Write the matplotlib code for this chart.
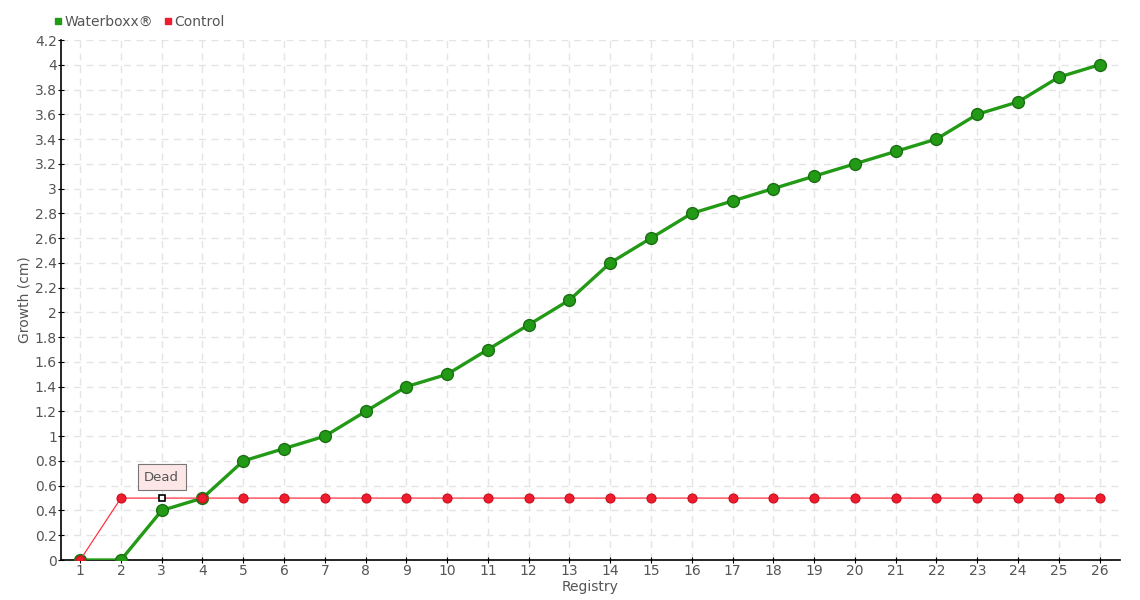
import matplotlib
matplotlib.use("Agg")
import matplotlib.pyplot as plt
from matplotlib.lines import Line2D

plt.rcParams["font.family"] = ["DejaVu Sans"]

# Data
registry = list(range(1, 27))
waterboxx = [0, 0, 0.4, 0.5, 0.8, 0.9, 1.0, 1.2, 1.4, 1.5, 1.7, 1.9, 2.1,
             2.4, 2.6, 2.8, 2.9, 3.0, 3.1, 3.2, 3.3, 3.4, 3.6, 3.7, 3.9, 4.0]
control = [0] + [0.5] * 25
dead_index = 2  # registry 3
y_ticks = [round(0.2 * i, 1) for i in range(22)]

text_color = "#555555"
green = "#229a16"
red = "#ee1c2c"

fig = plt.figure(figsize=(11.4, 6), dpi=100)
ax = fig.add_axes([61 / 1140, 40 / 600, (1120 - 61) / 1140, 520 / 600])

# Waterboxx series
ax.plot(registry, waterboxx, color=green, linewidth=2.4, zorder=3)
ax.plot(registry, waterboxx, "o", markersize=8.5, markerfacecolor=green,
        markeredgecolor="#1a6e12", markeredgewidth=1, zorder=4)

# Control series
ax.plot(registry, control, color="#ff3344", linewidth=0.9, zorder=5)
alive_x = [x for i, x in enumerate(registry) if i != dead_index]
alive_y = [y for i, y in enumerate(control) if i != dead_index]
ax.plot(alive_x, alive_y, "o", markersize=6.5, markerfacecolor=red,
        markeredgecolor="#c8101e", markeredgewidth=0.8, zorder=6)
ax.plot(registry[dead_index], control[dead_index], "s", markersize=5,
        markerfacecolor="white", markeredgecolor="black",
        markeredgewidth=1.2, zorder=7)

ax.annotate("Dead", xy=(registry[dead_index], control[dead_index]),
            xytext=(0, 15), textcoords="offset points", ha="center",
            va="center", fontsize=9.5, color=text_color,
            bbox=dict(boxstyle="square,pad=0.5", facecolor="#fde6e6",
                      edgecolor="#777777", linewidth=0.8),
            zorder=8)

ax.set_xlim(0.53, 26.5)
ax.set_ylim(0, 4.2)
ax.set_xticks(registry)
ax.set_yticks(y_ticks)
ax.set_yticklabels([f"{v:g}" for v in y_ticks])

ax.grid(True, color="#e4e4e4", linestyle=(0, (5, 4)), linewidth=1)
ax.set_axisbelow(True)
for side in ["top", "right"]:
    ax.spines[side].set_visible(False)
for side in ["left", "bottom"]:
    ax.spines[side].set_color("black")
    ax.spines[side].set_linewidth(1.2)

ax.tick_params(axis="both", colors=text_color, labelsize=10, length=4,
               direction="inout", pad=1)
ax.tick_params(axis="both", color="black")

ax.set_xlabel("Registry", color=text_color, fontsize=10, labelpad=1)
ax.set_ylabel("Growth (cm)", color=text_color, fontsize=10, labelpad=2)

handles = [
    Line2D([], [], marker="s", linestyle="", markersize=5,
           markerfacecolor=green, markeredgecolor=green, label="Waterboxx®"),
    Line2D([], [], marker="s", linestyle="", markersize=5,
           markerfacecolor=red, markeredgecolor=red, label="Control"),
]
leg = fig.legend(handles=handles, loc="upper left",
                 bbox_to_anchor=(40 / 1140, 1 - 2 / 600),
                 ncol=2, frameon=False, fontsize=10, handletextpad=0.1,
                 columnspacing=0.6, handlelength=0.8)
for t in leg.get_texts():
    t.set_color(text_color)

fig.savefig("out.png", dpi=100)
